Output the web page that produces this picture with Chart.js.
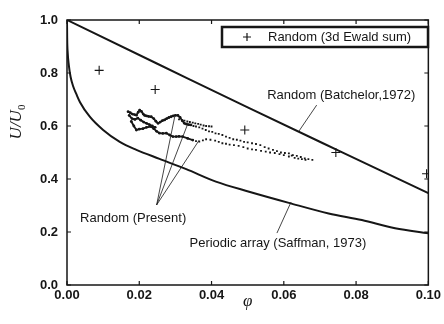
<!DOCTYPE html>
<html><head><meta charset="utf-8">
<script src="https://cdn.jsdelivr.net/npm/chart.js@4"></script>
<style>html,body{margin:0;padding:0;background:#fff}#wrap{width:444px;height:324px}</style>
</head><body><div id="wrap"><canvas id="c" width="444" height="324"></canvas></div>
<script>
// ---- data ----
const xTickValues = [0, 0.02, 0.04, 0.06, 0.08, 0.10];
const xTickLabels = ['0.00','0.02','0.04','0.06','0.08','0.10'];
const yTickValues = [0, 0.2, 0.4, 0.6, 0.8, 1.0];
const yTickLabels = ['0.0','0.2','0.4','0.6','0.8','1.0'];

const batchelorPhi = [0, 0.025, 0.05, 0.075, 0.10];
const batchelorU   = [1.0, 0.835, 0.67, 0.508, 0.347];

const saffmanPhi = [0, 0.00005, 0.0002, 0.0005, 0.001, 0.0017, 0.0026, 0.0036, 0.0063, 0.010, 0.0146, 0.0192, 0.0256, 0.033, 0.0412, 0.0504, 0.0614, 0.0724, 0.0816, 0.0908, 0.10];
const saffmanU   = [1.0, 0.93, 0.875, 0.83, 0.785, 0.75, 0.72, 0.69, 0.635, 0.585, 0.54, 0.51, 0.476, 0.437, 0.39, 0.352, 0.31, 0.27, 0.245, 0.214, 0.195];

const ewaldPhi = [0.0089, 0.0244, 0.0492, 0.0744, 0.0995];
const ewaldU   = [0.81, 0.738, 0.585, 0.50, 0.42];

// Random (Present) - dense wiggly part
const present1DensePhi = [0.0169,0.0175,0.0181,0.0187,0.0192,0.0197,0.0201,0.0206,0.0211,0.0215,0.022,0.0226,0.0233,0.024,0.0246,0.0252,0.0258,0.0264,0.027,0.0276,0.0282,0.0288,0.0294,0.030,0.0307,0.0313,0.0319,0.0325,0.0331,0.0337,0.0343];
const present1DenseU   = [0.654,0.650,0.645,0.643,0.641,0.652,0.660,0.655,0.645,0.640,0.638,0.636,0.635,0.628,0.618,0.610,0.615,0.620,0.623,0.628,0.632,0.635,0.638,0.640,0.640,0.632,0.620,0.610,0.607,0.605,0.604];
const present2DensePhi = [0.0178,0.0185,0.0192,0.020,0.021,0.022,0.0233,0.024,0.0248,0.0256,0.0265,0.0275,0.0284,0.0293,0.0302,0.031,0.032,0.0334,0.0348];
const present2DenseU   = [0.617,0.600,0.585,0.588,0.590,0.595,0.598,0.590,0.580,0.573,0.572,0.573,0.566,0.560,0.560,0.561,0.560,0.553,0.547];
const present3DensePhi = [0.0172,0.018,0.0188,0.0196,0.0204,0.0212,0.022,0.0228,0.0236,0.0244];
const present3DenseU   = [0.640,0.628,0.625,0.630,0.622,0.615,0.610,0.605,0.600,0.595];

// Random (Present) - sparse dotted part
const present1Phi = [0.035,0.0357,0.0366,0.0375,0.0384,0.0393,0.0402,0.0411,0.042,0.043,0.044,0.045,0.046,0.047,0.048,0.049,0.050,0.0512,0.0523,0.0535,0.0547,0.0558,0.057,0.0581,0.0592,0.0603,0.0614,0.0625,0.0636,0.0647,0.0658,0.0668,0.0679];
const present1U   = [0.600,0.598,0.595,0.590,0.585,0.580,0.578,0.572,0.570,0.566,0.560,0.555,0.550,0.548,0.545,0.540,0.538,0.535,0.532,0.528,0.520,0.515,0.510,0.505,0.500,0.498,0.497,0.490,0.487,0.483,0.478,0.475,0.472];
const present2Phi = [0.0357,0.0366,0.0376,0.0385,0.0397,0.041,0.042,0.043,0.044,0.045,0.0462,0.0475,0.0488,0.050,0.0512,0.0523,0.0537,0.055,0.0562,0.0575,0.0588,0.060,0.0614,0.0622,0.063,0.064,0.065,0.066];
const present2U   = [0.543,0.541,0.546,0.550,0.548,0.545,0.540,0.535,0.533,0.530,0.528,0.525,0.520,0.515,0.512,0.510,0.506,0.503,0.500,0.498,0.494,0.490,0.485,0.488,0.480,0.477,0.475,0.472];
const present3Phi = [0.031,0.0318,0.0325,0.0333,0.034,0.0348,0.0355,0.0363,0.037,0.0378,0.0385,0.0393,0.040];
const present3U   = [0.625,0.622,0.620,0.617,0.615,0.613,0.610,0.608,0.605,0.602,0.600,0.599,0.598];

// ---- helpers ----
const pts = (xs, ys) => xs.map((x, i) => ({x, y: ys[i]}));
const INK = '#161616';

const lineDs = (xs, ys, w) => ({data: pts(xs, ys), showLine: true, borderColor: INK, borderWidth: w, pointRadius: 0, fill: false, cubicInterpolationMode: 'monotone'});
const denseDs = (xs, ys) => ({data: pts(xs, ys), showLine: true, borderColor: INK, borderWidth: 1.9, pointRadius: 1.4, pointBackgroundColor: INK, pointBorderWidth: 0, tension: 0});
const dotDs = (xs, ys) => ({data: pts(xs, ys), showLine: false, pointRadius: 1.3, pointBackgroundColor: INK, pointBorderWidth: 0, pointStyle: 'rect'});

// annotation texts in data coordinates
const notes = [
  {text: 'Random (Batchelor,1972)', x: 0.0554, y: 0.717},
  {text: 'Random (Present)', x: 0.0036, y: 0.253},
  {text: 'Periodic array (Saffman, 1973)', x: 0.0339, y: 0.158}
];
const leaders = [
  [[0.0691, 0.679], [0.0642, 0.581]],
  [[0.0248, 0.302], [0.0298, 0.634]],
  [[0.0248, 0.302], [0.0333, 0.604]],
  [[0.0248, 0.302], [0.0366, 0.547]],
  [[0.0581, 0.196], [0.0620, 0.313]]
];

const LABEL_FONT = '13px "Liberation Sans", Arial, sans-serif';

const decor = {
  id: 'decor',
  afterDatasetsDraw(chart) {
    const {ctx, chartArea: a, scales: {x, y}} = chart;
    ctx.save();
    ctx.strokeStyle = INK;
    // frame
    ctx.lineWidth = 1.5;
    ctx.strokeRect(a.left, a.top, a.right - a.left, a.bottom - a.top);
    // inward ticks
    ctx.lineWidth = 1.2;
    ctx.beginPath();
    xTickValues.forEach(v => {
      const px = x.getPixelForValue(v);
      ctx.moveTo(px, a.bottom); ctx.lineTo(px, a.bottom - 4);
      ctx.moveTo(px, a.top); ctx.lineTo(px, a.top + 4);
    });
    yTickValues.forEach(v => {
      const py = y.getPixelForValue(v);
      ctx.moveTo(a.left, py); ctx.lineTo(a.left + 4, py);
      ctx.moveTo(a.right, py); ctx.lineTo(a.right - 4, py);
    });
    ctx.stroke();
    // leader lines
    ctx.lineWidth = 0.8;
    ctx.beginPath();
    leaders.forEach(([p, q]) => {
      ctx.moveTo(x.getPixelForValue(p[0]), y.getPixelForValue(p[1]));
      ctx.lineTo(x.getPixelForValue(q[0]), y.getPixelForValue(q[1]));
    });
    ctx.stroke();
    // notes
    ctx.fillStyle = INK;
    ctx.font = LABEL_FONT;
    ctx.textBaseline = 'middle';
    ctx.textAlign = 'left';
    notes.forEach(n => ctx.fillText(n.text, x.getPixelForValue(n.x), y.getPixelForValue(n.y)));
    // legend box
    const lx = a.left + 155, ly = a.top + 7, lw = 206, lh = 20;
    ctx.fillStyle = '#fff';
    ctx.fillRect(lx, ly, lw, lh);
    ctx.lineWidth = 2.5;
    ctx.strokeRect(lx, ly, lw, lh);
    ctx.lineWidth = 1.2;
    const cx = lx + 25, cy = ly + lh / 2;
    ctx.beginPath();
    ctx.moveTo(cx - 4, cy); ctx.lineTo(cx + 4, cy);
    ctx.moveTo(cx, cy - 4); ctx.lineTo(cx, cy + 4);
    ctx.stroke();
    ctx.fillStyle = INK;
    ctx.fillText('Random (3d Ewald sum)', lx + 46, cy);
    // x title
    ctx.font = 'italic 17px "Liberation Serif", "DejaVu Serif", serif';
    ctx.textAlign = 'center';
    ctx.fillText('\u03C6', (a.left + a.right) / 2, 302);
    // y title
    ctx.translate(17, 122);
    ctx.rotate(-Math.PI / 2);
    ctx.textAlign = 'left';
    const bigF = 'italic 17px "Liberation Serif", "DejaVu Serif", serif';
    const subF = '11px "Liberation Serif", serif';
    ctx.font = bigF;
    const t = 'U/U';
    const tw = ctx.measureText(t).width;
    ctx.font = subF;
    const sw = ctx.measureText('0').width;
    const start = -(tw + sw) / 2;
    ctx.font = bigF;
    ctx.fillText(t, start, 0);
    ctx.font = subF;
    ctx.fillText('0', start + tw, 5);
    ctx.restore();
  }
};

new Chart(document.getElementById('c'), {
  type: 'scatter',
  data: {
    datasets: [
      lineDs(batchelorPhi, batchelorU, 2),
      lineDs(saffmanPhi, saffmanU, 2),
      denseDs(present1DensePhi, present1DenseU),
      denseDs(present2DensePhi, present2DenseU),
      denseDs(present3DensePhi, present3DenseU),
      dotDs(present1Phi, present1U),
      dotDs(present2Phi, present2U),
      dotDs(present3Phi, present3U),
      {data: pts(ewaldPhi, ewaldU), showLine: false, pointStyle: 'cross', pointRadius: 4.5, borderColor: INK, borderWidth: 1.1, pointHoverRadius: 4.5}
    ]
  },
  options: {
    responsive: false,
    animation: false,
    events: [],
    layout: {padding: {top: 20, right: 14, left: 0, bottom: 0}},
    plugins: {legend: {display: false}, tooltip: {enabled: false}},
    scales: {
      x: {
        type: 'linear', min: 0, max: 0.10,
        afterBuildTicks: s => { s.ticks = xTickValues.map(v => ({value: v})); },
        afterFit: s => { s.height = 39; },
        grid: {display: false, drawTicks: false},
        border: {display: false},
        ticks: {padding: 3, color: INK, font: {family: '"Liberation Sans", Arial, sans-serif', size: 13, weight: 'bold'},
                callback: (v, i) => xTickLabels[i]}
      },
      y: {
        type: 'linear', min: 0, max: 1.0,
        afterBuildTicks: s => { s.ticks = yTickValues.map(v => ({value: v})); },
        afterFit: s => { s.width = 67; },
        grid: {display: false, drawTicks: false},
        border: {display: false},
        ticks: {padding: 9, color: INK, font: {family: '"Liberation Sans", Arial, sans-serif', size: 13, weight: 'bold'},
                callback: (v, i) => yTickLabels[i]}
      }
    }
  },
  plugins: [decor]
});
</script>
</body></html>
